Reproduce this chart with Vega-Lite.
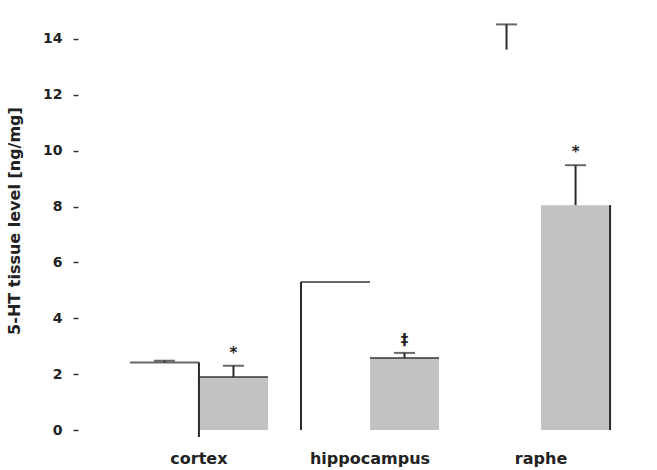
{
  "$schema": "https://vega.github.io/schema/vega-lite/v6.json",
  "autosize": {"type": "none"},
  "padding": {"left": 100, "top": 11, "right": 17, "bottom": 40},
  "width": 540,
  "height": 419,
  "background": "white",
  "config": {"view": {"stroke": null}, "font": "DejaVu Sans"},
  "data": {"values": [
    {"region": "cortex", "group": "control", "value": 2.42, "err": 0.06, "sig": ""},
    {"region": "cortex", "group": "treated", "value": 1.9, "err": 0.4, "sig": "*"},
    {"region": "hippocampus", "group": "control", "value": 5.3, "err": 0, "sig": ""},
    {"region": "hippocampus", "group": "treated", "value": 2.58, "err": 0.18, "sig": "‡"},
    {"region": "raphe", "group": "control", "value": 13.62, "err": 0.9, "sig": ""},
    {"region": "raphe", "group": "treated", "value": 8.05, "err": 1.43, "sig": "*"}
  ]},
  "layer": [
    {
      "mark": {"type": "bar"},
      "encoding": {
        "x": {"field": "region", "type": "nominal", "sort": ["cortex", "hippocampus", "raphe"],
          "scale": {"paddingInner": 0.193, "paddingOuter": 0.175},
          "axis": {"title": null, "labelAngle": 0, "ticks": false, "domain": false, "labelPadding": 20, "labelFontSize": 16, "labelFontWeight": "bold", "labelColor": "#222"}},
        "xOffset": {"field": "group", "type": "nominal", "sort": ["control", "treated"], "scale": {"paddingInner": 0, "paddingOuter": 0}},
        "y": {"field": "value", "type": "quantitative", "scale": {"domain": [0, 15], "nice": false, "zero": false},
          "axis": {"title": "5-HT tissue level [ng/mg]", "values": [0, 2, 4, 6, 8, 10, 12, 14], "grid": false, "domain": false,
            "offset": 22, "tickSize": 5, "tickWidth": 1.5, "tickColor": "#333", "labelPadding": 11, "labelFontSize": 14, "labelFontWeight": "bold", "labelColor": "#222",
            "titleFontSize": 16, "titleColor": "#222", "titleFontWeight": "bold", "titlePadding": 20}},
        "color": {"field": "group", "type": "nominal", "scale": {"domain": ["control", "treated"], "range": ["#ffffff", "#c1c2c4"]}, "legend": null}
      }
    },
    {
      "transform": [{"filter": "datum.region != 'raphe'"}],
      "mark": {"type": "tick", "orient": "horizontal", "size": 69, "thickness": 2, "color": "#2a2a2a"},
      "encoding": {
        "x": {"field": "region", "type": "nominal", "sort": ["cortex", "hippocampus", "raphe"]},
        "xOffset": {"field": "group", "type": "nominal", "sort": ["control", "treated"]},
        "y": {"field": "value", "type": "quantitative", "scale": {"domain": [0, 15], "nice": false, "zero": false}}
      }
    },
    {
      "transform": [{"filter": "datum.region == 'cortex' && datum.group == 'control'"}],
      "mark": {"type": "rule", "strokeWidth": 2, "color": "#2a2a2a"},
      "encoding": {"x": {"field": "region", "type": "nominal", "sort": ["cortex", "hippocampus", "raphe"], "bandPosition": 0.5}, "y": {"field": "value", "type": "quantitative", "scale": {"domain": [0, 15], "nice": false, "zero": false}}, "y2": {"datum": -0.25}}
    },
    {
      "transform": [{"filter": "datum.region == 'hippocampus' && datum.group == 'control'"}],
      "mark": {"type": "rule", "strokeWidth": 2, "color": "#2a2a2a"},
      "encoding": {"x": {"field": "region", "type": "nominal", "sort": ["cortex", "hippocampus", "raphe"], "bandPosition": 0}, "y": {"field": "value", "type": "quantitative", "scale": {"domain": [0, 15], "nice": false, "zero": false}}, "y2": {"datum": 0}}
    },
    {
      "transform": [{"filter": "datum.region == 'raphe' && datum.group == 'treated'"}],
      "mark": {"type": "rule", "strokeWidth": 2, "color": "#2a2a2a"},
      "encoding": {"x": {"field": "region", "type": "nominal", "sort": ["cortex", "hippocampus", "raphe"], "bandPosition": 1}, "y": {"field": "value", "type": "quantitative", "scale": {"domain": [0, 15], "nice": false, "zero": false}}, "y2": {"datum": 0}}
    },
    {
      "transform": [{"filter": "datum.err > 0"}, {"calculate": "datum.value + datum.err", "as": "hi"}],
      "mark": {"type": "rule", "strokeWidth": 2, "color": "#2a2a2a"},
      "encoding": {
        "x": {"field": "region", "type": "nominal", "sort": ["cortex", "hippocampus", "raphe"]},
        "xOffset": {"field": "group", "type": "nominal", "sort": ["control", "treated"]},
        "y": {"field": "value", "type": "quantitative", "scale": {"domain": [0, 15], "nice": false, "zero": false}}, "y2": {"field": "hi"}
      }
    },
    {
      "transform": [{"filter": "datum.err > 0"}, {"calculate": "datum.value + datum.err", "as": "hi"}],
      "mark": {"type": "tick", "orient": "horizontal", "size": 21, "thickness": 2, "color": "#2a2a2a"},
      "encoding": {
        "x": {"field": "region", "type": "nominal", "sort": ["cortex", "hippocampus", "raphe"]},
        "xOffset": {"field": "group", "type": "nominal", "sort": ["control", "treated"]},
        "y": {"field": "hi", "type": "quantitative", "scale": {"domain": [0, 15], "nice": false, "zero": false}}
      }
    },
    {
      "transform": [{"filter": "datum.sig != ''"}, {"calculate": "datum.value + datum.err", "as": "hi"}],
      "mark": {"type": "text", "baseline": "bottom", "dy": -5, "fontSize": 15, "fontWeight": "bold", "color": "#222"},
      "encoding": {
        "x": {"field": "region", "type": "nominal", "sort": ["cortex", "hippocampus", "raphe"]},
        "xOffset": {"field": "group", "type": "nominal", "sort": ["control", "treated"]},
        "y": {"field": "hi", "type": "quantitative", "scale": {"domain": [0, 15], "nice": false, "zero": false}}, "text": {"field": "sig"}
      }
    }
  ]
}
